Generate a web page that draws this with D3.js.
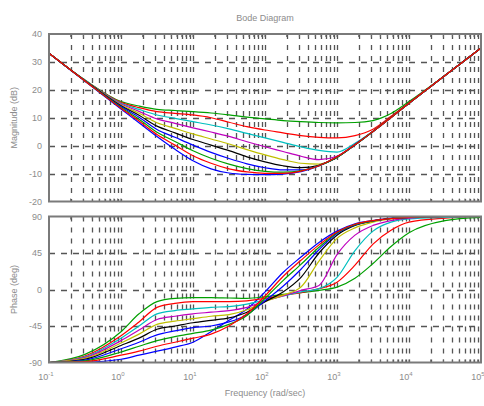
<!DOCTYPE html>
<html>
<head>
<meta charset="utf-8">
<script src="https://cdn.jsdelivr.net/npm/d3@7"></script>
<style>
  body { margin: 0; background: #fff; }
  text { font-family: Arial, "Liberation Sans", sans-serif; fill: #8c8c8c; }
</style>
</head>
<body>
<svg id="chart" width="484" height="406"></svg>
<script>
// Frequency grid (rad/sec) shared by all responses
const freq = [0.1, 0.316, 1, 1.78, 3.16, 5.62, 10, 17.8, 31.6, 56.2, 100, 178, 316, 562,
              1000, 1778, 3162, 5623, 10000, 31623, 100000];

// Magnitude (dB), one array per response
const magB2 = [33.1, 23.1, 13.1, 8.2, 3.3, -1.3, -5.4, -8.3, -9.8, -10.3, -10.4, -10.2, -9.3, -7.3, -4.0, 0.3, 5.1, 10.1, 15.2, 25.1, 35.0];
const magG1 = [33.1, 23.5, 15.8, 14.2, 13.0, 12.6, 12.2, 11.7, 11.0, 10.2, 9.6, 9.0, 8.6, 8.3, 8.2, 8.3, 9.0, 11.5, 15.8, 25.2, 35.0];
const magR1 = [33.1, 23.4, 15.5, 13.6, 12.2, 11.6, 11.0, 10.0, 8.4, 6.8, 5.6, 4.6, 3.6, 3.0, 2.8, 3.6, 5.9, 10.5, 15.4, 25.1, 35.0];
const magC  = [33.1, 23.4, 15.2, 13.0, 11.0, 9.8, 8.6, 7.4, 6.0, 4.4, 2.8, 1.2, -0.4, -1.7, -2.3, 0.9, 5.2, 10.2, 15.2, 25.1, 35.0];
const magM  = [33.1, 23.3, 14.9, 12.3, 9.6, 8.0, 6.4, 4.9, 3.3, 1.4, -0.4, -2.1, -3.8, -5.0, -3.8, 0.5, 5.1, 10.1, 15.2, 25.1, 35.0];
const magY  = [33.1, 23.3, 14.6, 11.6, 8.2, 6.2, 4.2, 2.4, 0.6, -1.4, -3.3, -5.0, -6.3, -6.6, -4.2, 0.3, 5.1, 10.1, 15.2, 25.1, 35.0];
const magK  = [33.1, 23.3, 14.3, 10.9, 7.0, 4.6, 2.2, 0.2, -1.8, -4.0, -5.8, -7.2, -7.9, -7.0, -4.2, 0.3, 5.1, 10.1, 15.2, 25.1, 35.0];
const magB1 = [33.1, 23.2, 14.0, 10.2, 5.8, 3.0, 0.2, -2.4, -4.6, -6.5, -7.9, -8.7, -8.7, -7.1, -4.1, 0.3, 5.1, 10.1, 15.2, 25.1, 35.0];
const magG2 = [33.1, 23.2, 13.7, 9.5, 4.8, 1.5, -1.8, -4.5, -6.6, -8.2, -9.2, -9.5, -9.0, -7.2, -4.1, 0.3, 5.1, 10.1, 15.2, 25.1, 35.0];
const magR2 = [33.1, 23.2, 13.4, 8.8, 4.0, 0.2, -3.6, -6.3, -8.3, -9.4, -9.9, -9.9, -9.1, -7.2, -4.0, 0.3, 5.1, 10.1, 15.2, 25.1, 35.0];

// Phase (deg), one array per response
const phB2 = [-90, -89.5, -86, -81, -76, -71, -65, -52, -38, -24, -3, 21, 40, 58, 72, 81, 85, 88, 89, 90, 90];
const phG1 = [-90, -80, -52, -30, -15, -11, -10, -10, -10.5, -11, -9, -6, -4, -1, 3, 14, 32, 53, 70, 85, 89];
const phR1 = [-90, -82, -57, -40, -22, -17, -15, -15, -15, -14, -11, -7, -4, 1, 9, 30, 56, 73, 83, 88, 90];
const phC  = [-90, -83, -60, -45, -30, -26, -24, -22, -21, -18, -13, -8, -3, 1, 15, 48, 72, 83, 87, 89, 90];
const phM  = [-90, -84, -63, -50, -37, -33, -30, -28, -26, -22, -14, -8, -1, 5, 43, 67, 79, 85, 88, 90, 90];
const phY  = [-90, -85, -66, -55, -43, -39, -36, -33, -31, -25, -15, -7, 3, 35, 63, 76, 83, 87, 89, 90, 90];
const phK  = [-90, -86, -69, -60, -49, -45, -41, -38, -35, -28, -15, -3, 15, 45, 67, 79, 84.5, 87.5, 89, 90, 90];
const phB1 = [-90, -87, -73, -65, -56, -51, -47, -45, -40, -31, -14, 4, 25, 49, 69, 79.5, 84.5, 87.5, 89, 90, 90];
const phG2 = [-90, -88, -77, -70, -63, -58, -54, -50, -43, -32, -11, 11, 31, 52, 70, 80, 84.5, 87.5, 89, 90, 90];
const phR2 = [-90, -89, -81, -76, -70, -65, -60, -55, -45, -30, -8, 16, 36, 55, 71, 80.5, 85, 87.5, 89, 90, 90];

// Plot order follows the colour cycle b g r c m y k b g r
const magSeries = [magB2, magG1, magR1, magC, magM, magY, magK, magB1, magG2, magR2];
const phaseSeries = [phB2, phG1, phR1, phC, phM, phY, phK, phB1, phG2, phR2];
const lineColors = ["#0000ff", "#00a000", "#ff0000", "#00bfbf", "#bf00bf", "#bfbf00", "#000000", "#0000ff", "#00a000", "#ff0000"];

// Axis ticks
const freqDecades = [-1, 0, 1, 2, 3, 4, 5];
const magTicks = [40, 30, 20, 10, 0, -10, -20];
const phaseTicks = [90, 45, 0, -45, -90];

const svg = d3.select("#chart");
const left = 49, right = 481;
const magTop = 34, magBottom = 201.5;
const phTop = 216.5, phBottom = 362.5;

const x = d3.scaleLog().domain([1e-1, 1e5]).range([left, right]);
const yMag = d3.scaleLinear().domain([-20, 40]).range([magBottom, magTop]);
const yPh = d3.scaleLinear().domain([-90, 90]).range([phBottom, phTop]);

// every 1..9 x 10^k position for the frequency grid
const minorFreqs = [];
for (let k = -1; k < 5; k++) for (let m = 1; m < 10; m++) minorFreqs.push(m * Math.pow(10, k));

function panel(y, ticks, top, bottom, series) {
  const g = svg.append("g");
  const clipId = "clip" + Math.round(top);
  svg.append("clipPath").attr("id", clipId)
    .append("rect").attr("x", left).attr("y", top).attr("width", right - left).attr("height", bottom - top);

  // vertical grid
  g.selectAll(".vg").data(minorFreqs.filter(f => f > 1e-1)).enter().append("line")
    .attr("x1", d => Math.round(x(d)) + 0.5).attr("x2", d => Math.round(x(d)) + 0.5)
    .attr("y1", top).attr("y2", bottom)
    .attr("stroke", "#555").attr("stroke-width", 1.3)
    .attr("stroke-dasharray", "5,6");

  // horizontal grid
  g.selectAll(".hg").data(ticks.slice(1, -1)).enter().append("line")
    .attr("x1", left).attr("x2", right)
    .attr("y1", d => Math.round(y(d)) + 0.5).attr("y2", d => Math.round(y(d)) + 0.5)
    .attr("stroke", "#555").attr("stroke-width", 1.3)
    .attr("stroke-dasharray", "6,6");

  // minor ticks along the top and bottom edges
  g.selectAll(".tb").data(minorFreqs).enter().append("line")
    .attr("x1", d => x(d)).attr("x2", d => x(d))
    .attr("y1", bottom).attr("y2", bottom - 3)
    .attr("stroke", "#666");
  g.selectAll(".tt").data(minorFreqs).enter().append("line")
    .attr("x1", d => x(d)).attr("x2", d => x(d))
    .attr("y1", top).attr("y2", top + 3)
    .attr("stroke", "#666");

  // response curves
  const line = d3.line()
    .x((d, i) => x(freq[i]))
    .y(d => y(d))
    .curve(d3.curveMonotoneX);
  const lg = svg.append("g").attr("clip-path", `url(#${clipId})`);
  series.forEach((s, i) => {
    lg.append("path").attr("d", line(s))
      .attr("fill", "none").attr("stroke", lineColors[i]).attr("stroke-width", 1.2);
  });

  // axes box
  svg.append("rect").attr("x", left).attr("y", top)
    .attr("width", right - left).attr("height", bottom - top)
    .attr("fill", "none").attr("stroke", "#7a7a7a").attr("stroke-width", 2);

  // y tick labels
  svg.append("g").selectAll("text").data(ticks).enter().append("text")
    .attr("x", left - 7).attr("y", d => y(d) + 3)
    .attr("text-anchor", "end").attr("font-size", 9)
    .text(d => d);
}

panel(yMag, magTicks, magTop, magBottom, magSeries);
panel(yPh, phaseTicks, phTop, phBottom, phaseSeries);

// frequency tick labels 10^k
const xl = svg.append("g").selectAll("text").data(freqDecades).enter().append("text")
  .attr("x", d => x(Math.pow(10, d)) - 3).attr("y", 380)
  .attr("text-anchor", "middle").attr("font-size", 9);
xl.append("tspan").text("10");
xl.append("tspan").attr("dy", -4).attr("font-size", 6).text(d => d);

// titles
svg.append("text").attr("x", (left + right) / 2).attr("y", 21)
  .attr("text-anchor", "middle").attr("font-size", 9).text("Bode Diagram");
svg.append("text").attr("x", (left + right) / 2).attr("y", 396)
  .attr("text-anchor", "middle").attr("font-size", 9).text("Frequency  (rad/sec)");
svg.append("text").attr("transform", `translate(17,${(magTop + magBottom) / 2}) rotate(-90)`)
  .attr("text-anchor", "middle").attr("font-size", 9).text("Magnitude (dB)");
svg.append("text").attr("transform", `translate(17,${(phTop + phBottom) / 2}) rotate(-90)`)
  .attr("text-anchor", "middle").attr("font-size", 9).text("Phase (deg)");
</script>
</body>
</html>
